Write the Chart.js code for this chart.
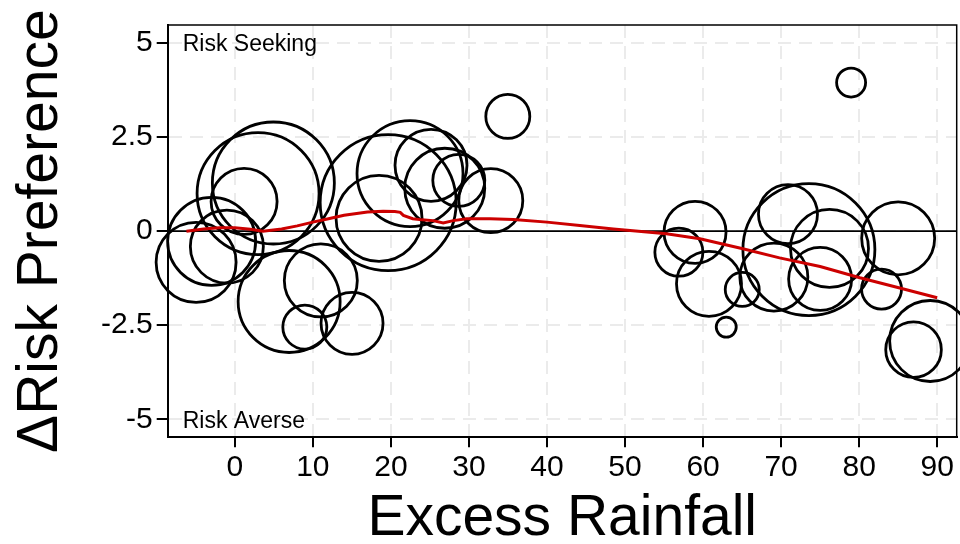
<!DOCTYPE html>
<html><head><meta charset="utf-8">
<script src="https://cdn.jsdelivr.net/npm/chart.js@4"></script>
<style>html,body{margin:0;padding:0;background:#fff;}#wrap{width:960px;height:544px;}</style>
</head><body><div id="wrap"><canvas id="c" width="960" height="544"></canvas></div>
<script>
// ---- data ----
const bubbleX = [4.94, 2.98, 1.19, -4.96, -2.97, -1.02, 6.96, 11.02, 8.97, 15.02,
                 19.65, 18.48, 22.45, 25.14, 26.9, 28.7, 32.8, 34.98,
                 58.97, 56.9, 60.76, 65.02, 62.97, 73.56, 70.88, 69.07, 76.2, 75.0, 85.0, 82.87, 89.1, 86.97, 78.97];
const bubbleY = [1.28, 1.00, 0.79, -0.83, -0.27, -0.41, -1.87, -1.31, -2.55, -2.45,
                 0.76, 0.34, 1.53, 1.75, 1.14, 1.35, 0.81, 3.05,
                 -0.03, -0.56, -1.40, -1.55, -2.55, -0.49, 0.45, -1.22, -0.46, -1.27, -0.19, -1.54, -2.92, -3.15, 3.95];
const bubbleWeight = [61, 61, 33, 40, 44, 36.5, 51, 36.5, 22, 31,
                      68, 43, 53, 36, 40, 26, 32, 22,
                      31, 24, 32.5, 17, 10, 66, 29.5, 34, 39, 31.5, 36.5, 20, 40.5, 27.8, 14.5];
const smoothX = [-6.2, -4, -2, 0, 2, 3.6, 6, 8, 10, 12, 14, 17, 19, 20.5, 21.2, 21.6, 22.8, 24, 25.4, 26.7, 28, 29.7, 32.7, 35.7, 40, 44.2, 48.5, 52.8, 55.3, 59.6, 65.1, 69.8, 75, 80.1, 85.2, 90];
const smoothY = [0.0, 0.06, 0.09, 0.09, 0.05, 0.0, 0.06, 0.14, 0.24, 0.33, 0.42, 0.51, 0.53, 0.52, 0.50, 0.42, 0.33, 0.30, 0.28, 0.22, 0.28, 0.33, 0.33, 0.31, 0.24, 0.15, 0.06, -0.02, -0.07, -0.2, -0.47, -0.71, -0.94, -1.24, -1.51, -1.77];
const xTicks = [0, 10, 20, 30, 40, 50, 60, 70, 80, 90];
const yTicks = [-5, -2.5, 0, 2.5, 5];
const yTickLabels = ['-5', '-2.5', '0', '2.5', '5'];
const xTitle = 'Excess Rainfall';
const yTitle = '\u0394Risk Preference';
const noteTop = 'Risk Seeking';
const noteBottom = 'Risk Averse';

const FONT = "'Liberation Sans', Arial, sans-serif";

const frameAndNotes = {
  id: 'frameAndNotes',
  beforeDatasetsDraw(chart) {
    const {ctx, chartArea: a, scales: {y}} = chart;
    const y0 = y.getPixelForValue(0);
    ctx.save();
    ctx.strokeStyle = '#000'; ctx.lineWidth = 1.8;
    ctx.beginPath(); ctx.moveTo(a.left, y0); ctx.lineTo(a.right, y0); ctx.stroke();
    ctx.restore();
  },
  afterDraw(chart) {
    const {ctx, chartArea: a} = chart;
    ctx.save();
    ctx.strokeStyle = '#000'; ctx.lineWidth = 1.5;
    ctx.beginPath();
    ctx.moveTo(a.left, a.top); ctx.lineTo(a.right, a.top); ctx.lineTo(a.right, a.bottom);
    ctx.stroke();
    ctx.fillStyle = '#000';
    ctx.font = '23px ' + FONT;
    ctx.textAlign = 'left'; ctx.textBaseline = 'alphabetic';
    ctx.fillText(noteTop, a.left + 15, a.top + 26);
    ctx.fillText(noteBottom, a.left + 15, a.bottom - 9);
    ctx.restore();
  }
};

new Chart(document.getElementById('c'), {
  type: 'bubble',
  data: {
    datasets: [
      {
        type: 'line',
        data: smoothX.map((x, i) => ({x: x, y: smoothY[i]})),
        borderColor: '#cc0000',
        borderWidth: 3,
        pointRadius: 0,
        tension: 0,
        fill: false,
        order: 0,
        clip: false
      },
      {
        type: 'bubble',
        data: bubbleX.map((x, i) => ({x: x, y: bubbleY[i], r: bubbleWeight[i]})),
        backgroundColor: 'rgba(0,0,0,0)',
        borderColor: '#000',
        borderWidth: 2.8,
        order: 1,
        clip: false
      }
    ]
  },
  options: {
    responsive: false,
    animation: false,
    devicePixelRatio: 1,
    layout: {autoPadding: false, padding: {top: 25, right: 3.3, left: 0, bottom: 0}},
    plugins: {legend: {display: false}, tooltip: {enabled: false}},
    scales: {
      x: {
        type: 'linear',
        min: -8.6, max: 92.5,
        afterBuildTicks: s => { s.ticks = xTicks.map(v => ({value: v})); },
        afterFit: s => { s.height = 106.7; },
        grid: {color: '#ebebeb', lineWidth: 2, tickColor: '#000', tickLength: 10, tickWidth: 2, tickBorderDash: []},
        border: {display: true, color: '#000', width: 2, dash: [13, 8]},
        ticks: {color: '#000', font: {family: FONT, size: 30}, padding: 2, maxRotation: 0, autoSkip: false},
        title: {display: true, text: xTitle, color: '#000', font: {family: FONT, size: 57, lineHeight: 0.86}, padding: {top: 0, bottom: 0}}
      },
      y: {
        type: 'linear',
        min: -5.48, max: 5.48,
        afterBuildTicks: s => { s.ticks = yTicks.map(v => ({value: v})); },
        afterFit: s => { s.width = 167.7; },
        grid: {color: '#ebebeb', lineWidth: 2, tickColor: '#000', tickLength: 11, tickWidth: 2, tickBorderDash: []},
        border: {display: true, color: '#000', width: 2, dash: [13, 8]},
        ticks: {color: '#000', font: {family: FONT, size: 30}, padding: 4, autoSkip: false,
                callback: (v) => { const k = yTicks.indexOf(v); return k >= 0 ? yTickLabels[k] : ''; }},
        title: {display: true, text: yTitle, color: '#000', font: {family: FONT, size: 57, lineHeight: 1.2}, padding: {top: 7, bottom: 0}}
      }
    }
  },
  plugins: [frameAndNotes]
});
</script>
</body></html>
